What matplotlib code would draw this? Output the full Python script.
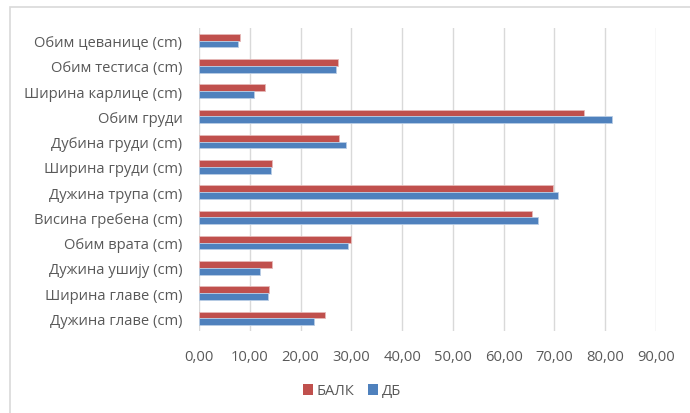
import matplotlib.pyplot as plt
import matplotlib.patches as mpatches
import numpy as np

# measurements, listed bottom to top as they appear on the axis
traits = ["Дужина главе (cm)", "Ширина главе (cm)", "Дужина ушију (cm)",
          "Обим врата (cm)", "Висина гребена (cm)", "Дужина трупа (cm)",
          "Ширина груди (cm)", "Дубина груди (cm)", "Обим груди",
          "Ширина карлице (cm)", "Обим тестиса (cm)", "Обим цеванице (cm)"]
balk = [24.9, 13.8, 14.3, 29.9, 65.6, 69.8, 14.4, 27.5, 75.9, 12.9, 27.4, 8.0]
db = [22.6, 13.6, 12.0, 29.3, 66.8, 70.7, 14.1, 28.9, 81.4, 10.8, 26.9, 7.7]
xticks = np.arange(0, 91, 10)

plt.rcParams['font.family'] = ['Open Sans', 'DejaVu Sans']
txt = '#595959'
red, blue = '#C0504D', '#4F81BD'
fs = 10.6

fig = plt.figure(figsize=(6.9, 4.14), dpi=100)
ax = fig.add_axes([199/690, 1 - 332/414, 457/690, 303/414])

# chart frame (only top/left edges fall inside the canvas)
fig.add_artist(mpatches.Rectangle((10/690, -0.1), 1.0, 1 - 7.5/414 + 0.1,
                                  transform=fig.transFigure, fill=False,
                                  edgecolor='#D9D9D9', linewidth=1.2))

y = np.arange(len(traits))
h = 0.27
ax.barh(y + h/2, balk, h, color=red, edgecolor='#E6B8B7', linewidth=0.6, label='БАЛК')
ax.barh(y - h/2, db, h, color=blue, edgecolor='#B9CDE5', linewidth=0.6, label='ДБ')

ax.set_xlim(0, 90)
ax.set_ylim(-0.5, len(traits) - 0.5)
ax.set_xticks(xticks)
ax.set_xticklabels([f"{v:.2f}".replace('.', ',') for v in xticks], fontsize=fs, color=txt)
ax.set_yticks(y)
ax.set_yticklabels(traits, fontsize=fs, color=txt)
ax.tick_params(axis='x', length=0, pad=13)
ax.tick_params(axis='y', length=0, pad=12)
ax.xaxis.grid(True, color='#D9D9D9', linewidth=1)
ax.set_axisbelow(True)
for s in ax.spines.values():
    s.set_visible(False)

leg = fig.legend(loc='center', bbox_to_anchor=(352/690, 1 - 392/414), ncol=2, frameon=False,
                 fontsize=fs, labelcolor=txt, handlelength=0.7, handleheight=0.7,
                 handletextpad=0.25, columnspacing=0.9)
for p in leg.get_patches():
    p.set_edgecolor('none')

fig.savefig('out.png', dpi=100)
